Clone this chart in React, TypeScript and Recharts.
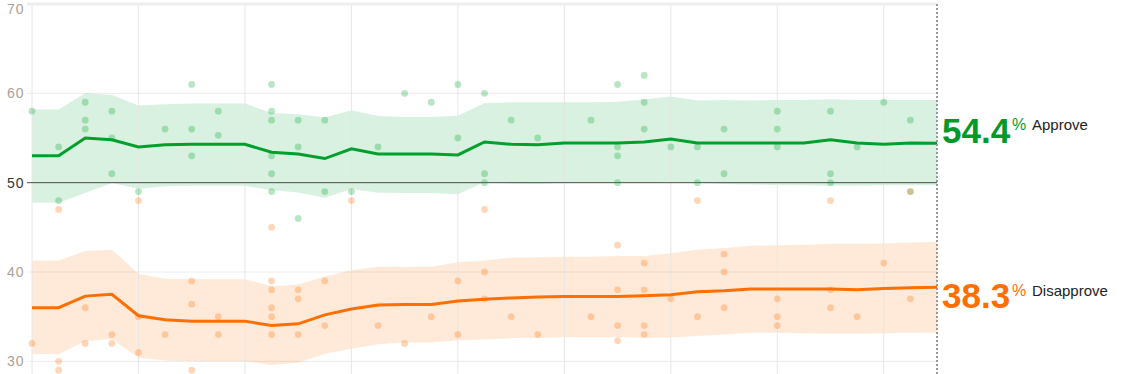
import {
  Area,
  CartesianGrid,
  ComposedChart,
  Line,
  ReferenceLine,
  Scatter,
  XAxis,
  YAxis,
} from 'recharts'

const GREEN = '#00a02c'
const ORANGE = '#ff6f00'

// one entry per time step (35 steps)
const approve = [
  53.0, 53.0, 55.0, 54.8, 54.0, 54.25, 54.3, 54.3, 54.3, 53.4, 53.2, 52.7, 53.8, 53.2, 53.2, 53.2, 53.1,
  54.55, 54.3, 54.25, 54.45, 54.45, 54.45, 54.55, 54.9, 54.45, 54.45, 54.45, 54.45, 54.45, 54.8, 54.45,
  54.3, 54.45, 54.4,
]
const approveHigh = [
  58.2, 58.2, 60.0, 59.8, 58.65, 58.77, 58.85, 58.85, 58.85, 57.8, 57.65, 57.3, 58.1, 57.45, 57.35, 57.35,
  57.5, 58.9, 59.0, 59.0, 59.0, 59.0, 59.05, 59.3, 59.65, 59.2, 59.25, 59.2, 59.25, 59.25, 59.35, 59.25,
  59.25, 59.25, 59.25,
]
const approveLow = [
  47.76, 47.76, 48.84, 49.95, 49.33, 49.6, 49.65, 49.65, 49.65, 49.14, 48.9, 48.3, 49.3, 48.88, 48.85,
  48.85, 48.7, 50.07, 49.9, 49.85, 49.98, 50.0, 50.02, 50.02, 50.1, 49.98, 49.85, 49.8, 49.75, 49.7, 49.65,
  49.65, 49.7, 49.7, 49.7,
]
const disapprove = [
  36.0, 36.0, 37.3, 37.5, 35.1, 34.66, 34.5, 34.5, 34.5, 34.0, 34.2, 35.2, 35.85, 36.3, 36.35, 36.35, 36.75,
  36.94, 37.1, 37.2, 37.27, 37.27, 37.27, 37.35, 37.46, 37.8, 37.9, 38.1, 38.1, 38.1, 38.1, 38.0, 38.15,
  38.25, 38.3,
]
const disapproveHigh = [
  41.3, 41.3, 42.35, 42.5, 39.8, 39.25, 39.2, 39.2, 39.2, 38.4, 38.6, 39.5, 40.2, 40.58, 40.55, 40.6, 41.1,
  41.3, 41.6, 41.65, 41.7, 41.7, 41.8, 41.8, 42.1, 42.5, 42.7, 42.95, 43.0, 43.05, 43.15, 43.15, 43.2, 43.3,
  43.4,
]
const disapproveLow = [
  30.85, 30.8, 32.27, 32.5, 30.4, 30.1, 30.0, 30.0, 30.0, 29.6, 29.85, 30.85, 31.4, 31.9, 32.1, 32.1, 32.35,
  32.45, 32.6, 32.65, 32.7, 32.7, 32.7, 32.68, 32.68, 32.83, 33.0, 33.2, 33.2, 33.15, 33.1, 33.1, 33.15,
  33.2, 33.2,
]

// individual polls: [step, value]
const approvePolls = [
  [0, 58], [1, 54], [1, 48], [2, 59], [2, 57], [2, 56], [3, 58], [3, 55], [3, 51], [4, 49], [5, 56],
  [6, 61], [6, 56], [6, 53], [7, 58], [7, 55.3], [9, 61], [9, 58], [9, 57], [9, 53], [9, 51], [9, 49],
  [10, 57], [10, 54], [10, 46], [11, 57], [11, 49], [12, 49], [13, 54], [14, 60], [15, 59], [16, 61],
  [16, 55], [17, 60], [17, 51], [17, 50], [18, 57], [19, 55], [21, 57], [22, 61], [22, 54], [22, 53],
  [22, 50], [23, 62], [23, 59], [23, 56], [24, 54], [25, 54], [25, 50], [26, 56], [26, 51], [28, 58],
  [28, 56], [28, 54], [30, 58], [30, 51], [30, 50], [31, 54], [32, 59], [33, 57], [33, 49],
]
const disapprovePolls = [
  [0, 32], [1, 47], [1, 30], [1, 29], [2, 36], [2, 32], [3, 33], [3, 32], [4, 48], [4, 35], [4, 31],
  [5, 33], [6, 39], [6, 36.4], [6, 29], [7, 35], [7, 33], [9, 45], [9, 39], [9, 38], [9, 36], [9, 35],
  [9, 33], [10, 38], [10, 37], [10, 33], [11, 39], [11, 34], [12, 48], [13, 34], [14, 32], [15, 35],
  [16, 39], [16, 33], [17, 47], [17, 40], [17, 37], [18, 35], [19, 33], [21, 35], [22, 43], [22, 38],
  [22, 34], [22, 32.3], [23, 41], [23, 38], [23, 34], [23, 33], [24, 37], [25, 48], [25, 35], [26, 42],
  [26, 40], [26, 36], [28, 37], [28, 35], [28, 34], [30, 48], [30, 38], [30, 36], [31, 35], [32, 41],
  [33, 37], [33, 49],
]

const yTicks = [30, 40, 50, 60, 70]
const xTicks = [0, 4, 8, 12, 16, 20, 24, 28, 32]

const data = approve.map((a, i) => ({
  i,
  approve: a,
  disapprove: disapprove[i],
  approveBand: [approveLow[i], approveHigh[i]],
  disapproveBand: [disapproveLow[i], disapproveHigh[i]],
}))
const approveDots = approvePolls.map(([i, v]) => ({ i, v }))
const disapproveDots = disapprovePolls.map(([i, v]) => ({ i, v }))

function YTick({ y, payload }: any) {
  return (
    <text
      x={7}
      y={y}
      dy={5}
      fontSize={14}
      fontFamily="Liberation Sans, Arial, sans-serif"
      letterSpacing={1}
      fill={payload.value === 50 ? '#333' : '#aaa198'}
    >
      {payload.value}
    </text>
  )
}

const dot = (color: string) => (p: any) => <circle cx={p.cx} cy={p.cy} r={3.4} fill={color} fillOpacity={0.28} />

const labelFont = 'Liberation Sans, Arial, sans-serif'

export default function App() {
  return (
    <div style={{ position: 'absolute', left: 0, top: 0, width: 1128, height: 374, overflow: 'hidden', background: '#fff' }}>
      <ComposedChart width={1128} height={410} data={data} margin={{ top: 4, right: 191, left: 0, bottom: 4 }}>
        <CartesianGrid stroke="#ebebeb" vertical={false} syncWithTicks />
        <XAxis
          dataKey="i"
          type="number"
          domain={[0, 34]}
          ticks={xTicks}
          padding={{ left: 5 }}
          tick={false}
          axisLine={false}
          tickLine={false}
          height={0}
        />
        <YAxis
          type="number"
          domain={[25, 70]}
          ticks={yTicks}
          width={27}
          axisLine={false}
          tickLine={false}
          tick={<YTick />}
        />
        {xTicks.map((t) => (
          <ReferenceLine key={t} x={t} stroke="#e6e6e6" strokeWidth={1} />
        ))}
        <ReferenceLine y={70} stroke="#eeeeee" strokeWidth={3} />
        <Area dataKey="approveBand" type="linear" stroke="none" fill={GREEN} fillOpacity={0.15} isAnimationActive={false} />
        <Area dataKey="disapproveBand" type="linear" stroke="none" fill={ORANGE} fillOpacity={0.15} isAnimationActive={false} />
        <ReferenceLine y={50} stroke="#4a544c" strokeWidth={1} />
        <Scatter data={approveDots} dataKey="v" fill={GREEN} shape={dot(GREEN)} isAnimationActive={false} />
        <Scatter data={disapproveDots} dataKey="v" fill={ORANGE} shape={dot(ORANGE)} isAnimationActive={false} />
        <Line dataKey="approve" type="linear" stroke={GREEN} strokeWidth={3} dot={false} isAnimationActive={false} />
        <Line dataKey="disapprove" type="linear" stroke={ORANGE} strokeWidth={3} dot={false} isAnimationActive={false} />
        <ReferenceLine x={34} stroke="#999" strokeWidth={2} strokeDasharray="2 2" />
      </ComposedChart>
      <svg style={{ position: 'absolute', left: 0, top: 0 }} width={1128} height={374}>
        <text x={942} y={143} fontFamily={labelFont} fontWeight="bold" fontSize={35} fill="#009a2a">
          {approve[approve.length - 1].toFixed(1)}
        </text>
        <text x={1012} y={130} fontFamily={labelFont} fontSize={16} fill="#009a2a">%</text>
        <text x={1032} y={130} fontFamily={labelFont} fontSize={15} fill="#222">Approve</text>
        <text x={942} y={308} fontFamily={labelFont} fontWeight="bold" fontSize={35} fill={ORANGE}>
          {disapprove[disapprove.length - 1].toFixed(1)}
        </text>
        <text x={1012} y={296} fontFamily={labelFont} fontSize={16} fill={ORANGE}>%</text>
        <text x={1032} y={296} fontFamily={labelFont} fontSize={15} fill="#222">Disapprove</text>
      </svg>
    </div>
  )
}
